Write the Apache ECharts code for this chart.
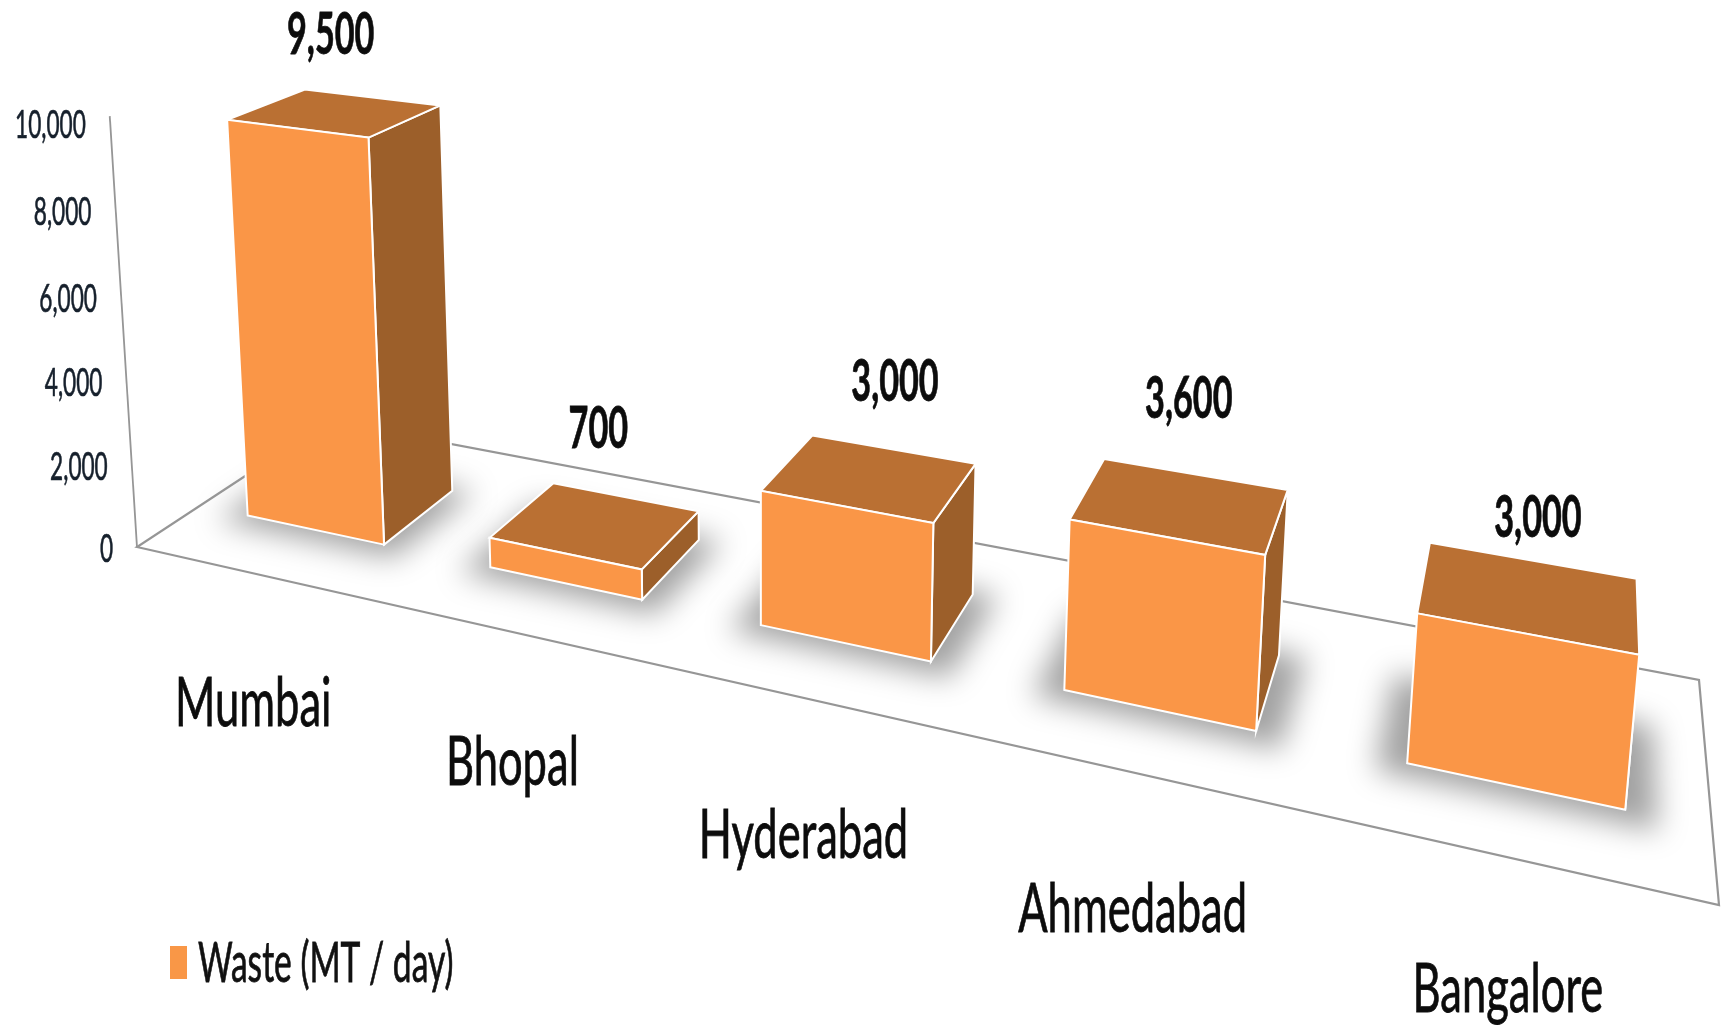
<!DOCTYPE html>
<html>
<head>
<meta charset="utf-8">
<title>Waste (MT / day)</title>
<style>
html, body { margin: 0; padding: 0; background: #fff; }
#chart { width: 1721px; height: 1030px; }
</style>
<script src="https://cdn.jsdelivr.net/npm/echarts@6/dist/echarts.min.js"></script>
</head>
<body>
<div id="chart"></div>
<script>
var seriesName = 'Waste (MT / day)';
var categories = ['Mumbai', 'Bhopal', 'Hyderabad', 'Ahmedabad', 'Bangalore'];
var waste = [9500, 700, 3000, 3600, 3000];
var ticks = [0, 2000, 4000, 6000, 8000, 10000];

var chart = echarts.init(document.getElementById('chart'));

// floor corners on screen, front left / front right / back right / back left
var FL = [137, 547], FR = [1719, 905], BR = [1699, 680], BL = [329, 421];
// the verticals converge below the chart
var VP = [760, 10400];
var HEIGHT = -0.0419;
var BAR_RATIO = 0.575, BAR_SHIFT = -0.001, D0 = 0.30, D1 = 0.695;
// hand nudges for the text, in px
var valueNudge = [[-18, 12], [-10, -4], [13, -4], [-3, -14], [-1, 14]];
var nameNudge = [0, 0, 8, 7, 2];

var dx1 = FR[0] - BR[0], dx2 = BL[0] - BR[0], sx = FL[0] - FR[0] + BR[0] - BL[0];
var dy1 = FR[1] - BR[1], dy2 = BL[1] - BR[1], sy = FL[1] - FR[1] + BR[1] - BL[1];
var den = dx1 * dy2 - dx2 * dy1;
var g = (sx * dy2 - dx2 * sy) / den;
var h = (dx1 * sy - sx * dy1) / den;
var a = FR[0] - FL[0] + g * FR[0], b = BL[0] - FL[0] + h * BL[0];
var d = FR[1] - FL[1] + g * FR[1], e = BL[1] - FL[1] + h * BL[1];

// u along the categories, t into the depth, z share of the value axis
function project(u, t, z) {
    var k = z * HEIGHT;
    var w = g * u + h * t + 1 + k;
    return [
        (a * u + b * t + FL[0] + k * VP[0]) / w,
        (d * u + e * t + FL[1] + k * VP[1]) / w
    ];
}

function shares(api, params, cat, value) {
    var cs = params.coordSys;
    var p = api.coord([cat, value]);
    return { u: (p[0] - cs.x) / cs.width, z: (cs.y + cs.height - p[1]) / cs.height };
}

function poly(points, fill) {
    return {
        type: 'polygon',
        shape: { points: points },
        style: { fill: fill, stroke: '#fff', lineWidth: 2 }
    };
}

function label(text, pos, font, scaleX, fill, align, thicken) {
    return {
        type: 'text',
        x: pos[0],
        y: pos[1],
        scaleX: scaleX,
        style: {
            text: text, font: font, fill: fill,
            stroke: thicken ? fill : null, lineWidth: thicken || 0,
            align: align || 'center', verticalAlign: 'middle'
        }
    };
}

function renderFloor(params, api) {
    var top = project(0, 0, 1);
    return {
        type: 'group',
        children: [
            { type: 'polygon', shape: { points: [FL, FR, BR, BL] }, style: { stroke: '#969696', lineWidth: 2.2, fill: null } },
            { type: 'polyline', shape: { points: [FL, top] }, style: { stroke: '#969696', lineWidth: 1.8, fill: null } },
            label(seriesName, [198, 964], '400 56px Lato', 0.6, '#111', 'left', 0.8)
        ]
    };
}

function renderTick(params, api) {
    var s = shares(api, params, 0, api.value(0));
    var p = project(0, 0, s.z);
    return label(echarts.format.addCommas(api.value(0)), [p[0] - 24, p[1] + 2 + 7 * s.z], '400 39px Lato', 0.58, '#16202c', 'right', 0.7);
}

function renderBar(params, api) {
    var cat = api.value(0), value = api.value(1);
    var s = shares(api, params, cat, value);
    var half = api.size([1, 0])[0] * BAR_RATIO / 2 / params.coordSys.width;
    var u0 = s.u - half + BAR_SHIFT, u1 = s.u + half + BAR_SHIFT;
    var z = s.z;

    var fb0 = project(u0, D0, 0), fb1 = project(u1, D0, 0), bb1 = project(u1, D1, 0);
    var ft0 = project(u0, D0, z), ft1 = project(u1, D0, z);
    var bt0 = project(u0, D1, z), bt1 = project(u1, D1, z);

    // polygon sits off the canvas so that only its blurred shadow lands on the floor
    var shadow = {
        type: 'polygon',
        x: -3000,
        shape: {
            points: [
                project(u0 - 0.016, D0 - 0.06, 0), project(u1 + 0.016, D0 - 0.06, 0),
                project(u1 + 0.016, D1 + 0.02, 0), project(u0 - 0.016, D1 + 0.02, 0)
            ]
        },
        style: { fill: '#999', shadowBlur: 30, shadowColor: '#a2a2a2', shadowOffsetX: 3000 }
    };

    var topCenter = project(s.u, 0.52, z);
    var floorFront = project(s.u, 0, 0);
    var nudge = valueNudge[cat];
    return {
        type: 'group',
        children: [
            shadow,
            poly([fb1, bb1, bt1, ft1], '#9c5f2a'),
            poly([ft0, ft1, bt1, bt0], '#ba7033'),
            poly([fb0, fb1, ft1, ft0], '#fa9647'),
            label(echarts.format.addCommas(value), [topCenter[0] + 8 + nudge[0], topCenter[1] - 88 + nudge[1]], '700 58px Lato', 0.59, '#0c0c0c', 'center', 0.8),
            label(categories[cat], [floorFront[0] - 3, floorFront[1] + 130 + nameNudge[cat]], '400 68px Lato', 0.64, '#0c0c0c', 'center', 0.8)
        ]
    };
}

var option = {
    backgroundColor: '#fff',
    animation: false,
    grid: { left: 0, right: 0, top: 0, bottom: 0 },
    legend: {
        left: 165,
        top: 941,
        icon: 'rect',
        itemWidth: 17,
        itemHeight: 33,
        data: [seriesName],
        selectedMode: false,
        formatter: function () { return ' '; }
    },
    xAxis: { type: 'category', data: categories, show: false },
    yAxis: { type: 'value', min: 0, max: 10000, interval: 2000, show: false },
    series: [
        { type: 'custom', name: 'floor', data: [0], renderItem: renderFloor, silent: true },
        { type: 'custom', name: 'ticks', data: ticks.map(function (t) { return [t]; }), renderItem: renderTick, silent: true },
        {
            type: 'custom',
            name: seriesName,
            itemStyle: { color: '#f99747' },
            data: waste.map(function (v, i) { return [i, v]; }),
            encode: { x: 0, y: 1 },
            renderItem: renderBar
        }
    ]
};

chart.setOption(option);
</script>
</body>
</html>
